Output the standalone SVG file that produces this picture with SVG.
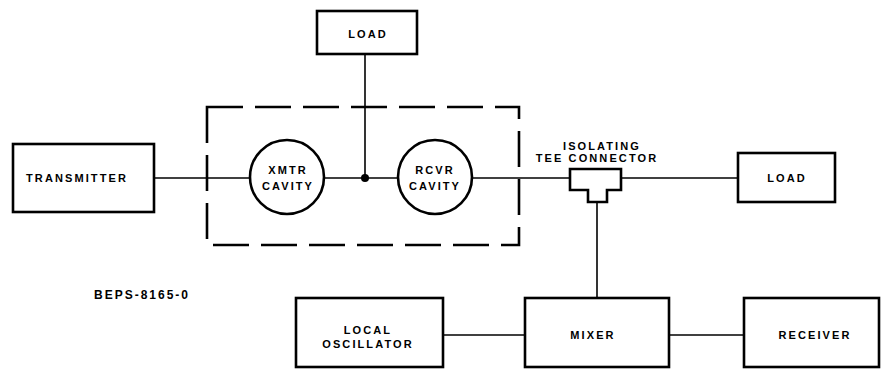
<svg xmlns="http://www.w3.org/2000/svg" width="882" height="369" viewBox="0 0 882 369">
<style>
.box{fill:#fff;stroke:#000;stroke-width:2.6}
.circ{fill:#fff;stroke:#000;stroke-width:2.6}
.ln{fill:none;stroke:#000;stroke-width:1.6}
.dash{fill:none;stroke:#000;stroke-width:2.6;stroke-dasharray:36 12}
text{font-family:"Liberation Sans",Arial,sans-serif;font-weight:bold;font-size:11px;letter-spacing:2.1px;fill:#000;text-anchor:middle;dominant-baseline:central}
.id{font-size:12px;letter-spacing:2px}
</style>
<rect width="882" height="369" fill="#fff"/>
<g id="connectors">
<line class="ln" x1="154" y1="178" x2="250" y2="178"/>
<line class="ln" x1="324" y1="178" x2="398" y2="178"/>
<line class="ln" x1="365" y1="54" x2="365" y2="178"/>
<circle cx="365" cy="178" r="4"/>
<line class="ln" x1="472" y1="178" x2="570" y2="178"/>
<line class="ln" x1="621" y1="178" x2="738" y2="178"/>
<line class="ln" x1="597" y1="202" x2="597" y2="298"/>
<line class="ln" x1="443" y1="335" x2="525" y2="335"/>
<line class="ln" x1="669" y1="335" x2="744" y2="335"/>
</g>
<g id="duplexer">
<rect class="dash" x="207" y="107" width="312" height="138"/>
</g>
<g id="load-top">
<rect class="box" x="317" y="11" width="100" height="43"/>
<text x="368" y="34">LOAD</text>
</g>
<g id="transmitter">
<rect class="box" x="13" y="144" width="141" height="68"/>
<text x="77" y="178">TRANSMITTER</text>
</g>
<g id="xmtr-cavity">
<circle class="circ" cx="287" cy="177" r="37"/>
<text x="288" y="170">XMTR</text>
<text x="288" y="186">CAVITY</text>
</g>
<g id="rcvr-cavity">
<circle class="circ" cx="435" cy="177" r="37"/>
<text x="435" y="170">RCVR</text>
<text x="435" y="186">CAVITY</text>
</g>
<g id="tee">
<path class="box" d="M570,169 H621 V190 H607 V202 H588 V190 H570 Z"/>
<text x="602" y="146">ISOLATING</text>
<text x="597" y="158">TEE CONNECTOR</text>
</g>
<g id="load-right">
<rect class="box" x="738" y="153" width="97" height="49"/>
<text x="787" y="178">LOAD</text>
</g>
<g id="local-oscillator">
<rect class="box" x="296" y="298" width="147" height="69"/>
<text x="368" y="330">LOCAL</text>
<text x="368" y="344">OSCILLATOR</text>
</g>
<g id="mixer">
<rect class="box" x="525" y="298" width="144" height="69"/>
<text x="593" y="335">MIXER</text>
</g>
<g id="receiver">
<rect class="box" x="744" y="298" width="135" height="69"/>
<text x="815" y="335">RECEIVER</text>
</g>
<g id="figure-id">
<text class="id" x="142" y="295">BEPS-8165-0</text>
</g>
</svg>
